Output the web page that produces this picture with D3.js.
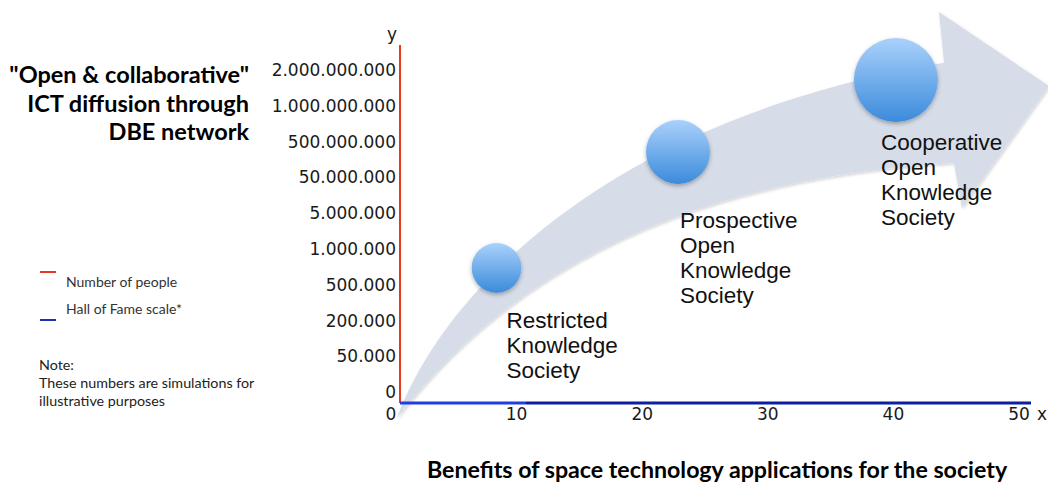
<!DOCTYPE html>
<html>
<head>
<meta charset="utf-8">
<script src="https://cdn.jsdelivr.net/npm/d3@7"></script>
<style>
  body { margin: 0; background: #fff; }
  svg { display: block; }
</style>
</head>
<body>
<div id="chart"></div>
<script>
// ---- data ----
const titleLines = ["\"Open & collaborative\"", "ICT diffusion through", "DBE network"];
const xTicks = [0, 10, 20, 30, 40, 50];
const yTickLabels = ["0", "50.000", "200.000", "500.000", "1.000.000", "5.000.000",
                     "50.000.000", "500.000.000", "1.000.000.000", "2.000.000.000"];
const legendLabels = ["Number of people", "Hall of Fame scale*"];
const legendColors = ["#e8391f", "#1c2fb0"];
const noteLines = ["Note:", "These numbers are simulations for", "illustrative purposes"];
const xTitle = "Benefits of space technology applications for the society";

// the three stages (x in axis units, level = position on the y tick ladder)
const stageNames = [
  ["Restricted", "Knowledge", "Society"],
  ["Prospective", "Open", "Knowledge", "Society"],
  ["Cooperative", "Open", "Knowledge", "Society"]
];
const stageX = [8.4, 22.85, 40.2];
const stageLevel = [3.47, 6.71, 8.72];
const stageSize = [35, 58, 100];

// arrow outline in axis units: [x, level]
const arrowStart = [0.48, -0.73];
const arrowUpper = [[3.9, 2.57], [16.64, 7.6], [44.03, 9.2]];   // cubic
const arrowHead = [[43.63, 10.62], [52.39, 8.55], [45.46, 5.14], [44.82, 6.4]];
const arrowLowerCtrl = [14.65, 5.79];                               // quadratic back

// ---- layout ----
const width = 1048, height = 486;
const axisX = 400, axisY = 403;

const svg = d3.select("#chart").append("svg")
    .attr("width", width)
    .attr("height", height);

const x = d3.scaleLinear().domain([0, 50]).range([391, 1019]);
const y = d3.scaleLinear().domain([0, yTickLabels.length - 1]).range([392, 70]);
const r = d3.scaleSqrt().domain([0, d3.max(stageSize)]).range([0, 42]);

const defs = svg.append("defs");

const ballGrad = defs.append("linearGradient")
    .attr("id", "ball").attr("x1", 0).attr("y1", 0).attr("x2", 0).attr("y2", 1);
ballGrad.append("stop").attr("offset", "0%").attr("stop-color", "#aad1fb");
ballGrad.append("stop").attr("offset", "100%").attr("stop-color", "#3b8bdb");

const shadow = defs.append("filter").attr("id", "shadow")
    .attr("x", "-30%").attr("y", "-30%").attr("width", "160%").attr("height", "160%");
shadow.append("feDropShadow")
    .attr("dx", 0).attr("dy", 2).attr("stdDeviation", 2)
    .attr("flood-color", "#000").attr("flood-opacity", 0.3);

const arrowShadow = defs.append("filter").attr("id", "arrowShadow")
    .attr("x", "-10%").attr("y", "-10%").attr("width", "120%").attr("height", "120%");
arrowShadow.append("feDropShadow")
    .attr("dx", 1).attr("dy", 1.5).attr("stdDeviation", 1.5)
    .attr("flood-color", "#000").attr("flood-opacity", 0.18);

const axisGrad = defs.append("linearGradient")
    .attr("id", "xaxis").attr("gradientUnits", "userSpaceOnUse")
    .attr("x1", axisX).attr("x2", 1031).attr("y1", 0).attr("y2", 0);
axisGrad.append("stop").attr("offset", "20%").attr("stop-color", "#1f3de0");
axisGrad.append("stop").attr("offset", "20%").attr("stop-color", "#0d1e9e");

// ---- big curved arrow ----
const P = p => [x(p[0]), y(p[1])];
const arrowPath = d3.path();
arrowPath.moveTo(...P(arrowStart));
arrowPath.bezierCurveTo(...P(arrowUpper[0]), ...P(arrowUpper[1]), ...P(arrowUpper[2]));
arrowHead.forEach(p => arrowPath.lineTo(...P(p)));
arrowPath.quadraticCurveTo(...P(arrowLowerCtrl), ...P(arrowStart));
arrowPath.closePath();

svg.append("path")
    .attr("d", arrowPath.toString())
    .attr("fill", "#d6dde9")
    .attr("filter", "url(#arrowShadow)");

// ---- axes ----
svg.append("line")
    .attr("x1", axisX).attr("x2", axisX)
    .attr("y1", 45).attr("y2", axisY)
    .attr("stroke", legendColors[0]).attr("stroke-width", 2);

svg.append("line")
    .attr("x1", axisX).attr("x2", 1031)
    .attr("y1", axisY).attr("y2", axisY)
    .attr("stroke", "url(#xaxis)").attr("stroke-width", 3);

const tickFont = "'DejaVu Sans', Verdana, sans-serif";
const tickSize = "17px";

svg.append("g").selectAll("text")
    .data(yTickLabels)
    .join("text")
    .attr("x", 396)
    .attr("y", (d, i) => y(i))
    .attr("dy", "0.36em")
    .attr("text-anchor", "end")
    .style("font-family", tickFont)
    .style("font-size", tickSize)
    .style("fill", "#1a1a1a")
    .text(d => d);

svg.append("g").selectAll("text")
    .data(xTicks)
    .join("text")
    .attr("x", d => x(d))
    .attr("y", 420)
    .attr("text-anchor", "middle")
    .style("font-family", tickFont)
    .style("font-size", tickSize)
    .style("fill", "#1a1a1a")
    .text(d => d);

svg.append("text")
    .attr("x", 392).attr("y", 40)
    .attr("text-anchor", "middle")
    .style("font-family", tickFont).style("font-size", tickSize).style("fill", "#1a1a1a")
    .text("y");

svg.append("text")
    .attr("x", 1042).attr("y", 420)
    .attr("text-anchor", "middle")
    .style("font-family", tickFont).style("font-size", tickSize).style("fill", "#1a1a1a")
    .text("x");

// ---- stages ----
const labelOffsets = [[10, 60], [2, 76], [-15, 70]];

const stages = stageNames.map((name, i) => ({
    name: name, x: stageX[i], level: stageLevel[i], size: stageSize[i], off: labelOffsets[i]
}));

svg.append("g").selectAll("circle")
    .data(stages)
    .join("circle")
    .attr("cx", d => x(d.x))
    .attr("cy", d => y(d.level))
    .attr("r", d => r(d.size))
    .attr("fill", "url(#ball)")
    .attr("filter", "url(#shadow)");

const stageText = svg.append("g").selectAll("text")
    .data(stages)
    .join("text")
    .attr("x", d => x(d.x) + d.off[0])
    .attr("y", d => y(d.level) + d.off[1])
    .style("font-family", "'Liberation Sans', Arial, sans-serif")
    .style("font-size", "22.5px")
    .style("fill", "#111");

stageText.selectAll("tspan")
    .data(d => d.name.map(t => ({ t: t, x: x(d.x) + d.off[0] })))
    .join("tspan")
    .attr("x", d => d.x)
    .attr("dy", (d, i) => i ? 25 : 0)
    .text(d => d.t);

// ---- title on the left ----
svg.append("text")
    .attr("text-anchor", "end")
    .style("font-family", "Lato, 'Open Sans', sans-serif")
    .style("font-weight", "bold")
    .style("font-size", "23.5px")
    .style("fill", "#000")
    .selectAll("tspan")
    .data(titleLines)
    .join("tspan")
    .attr("x", 249)
    .attr("y", (d, i) => 83 + i * 28.7)
    .text(d => d);

// ---- legend ----
const legendFont = "Lato, 'Open Sans', sans-serif";
const legendRows = [{ lineY: 272, textY: 287 }, { lineY: 320, textY: 314 }];

const legend = svg.append("g").selectAll("g")
    .data(legendLabels)
    .join("g");

legend.append("line")
    .attr("x1", 40).attr("x2", 56)
    .attr("y1", (d, i) => legendRows[i].lineY)
    .attr("y2", (d, i) => legendRows[i].lineY)
    .attr("stroke", (d, i) => legendColors[i])
    .attr("stroke-width", 2);

legend.append("text")
    .attr("x", 66)
    .attr("y", (d, i) => legendRows[i].textY)
    .style("font-family", legendFont)
    .style("font-size", "14px")
    .style("fill", "#333")
    .text(d => d);

svg.append("text")
    .style("font-family", legendFont)
    .style("font-size", "14.3px")
    .style("fill", "#222")
    .selectAll("tspan")
    .data(noteLines)
    .join("tspan")
    .attr("x", 39)
    .attr("y", (d, i) => 370 + i * 18)
    .text(d => d);

// ---- x title ----
svg.append("text")
    .attr("x", 427).attr("y", 478)
    .style("font-family", "Lato, 'Open Sans', sans-serif")
    .style("font-weight", "bold")
    .style("font-size", "23.2px")
    .style("fill", "#000")
    .text(xTitle);
</script>
</body>
</html>
